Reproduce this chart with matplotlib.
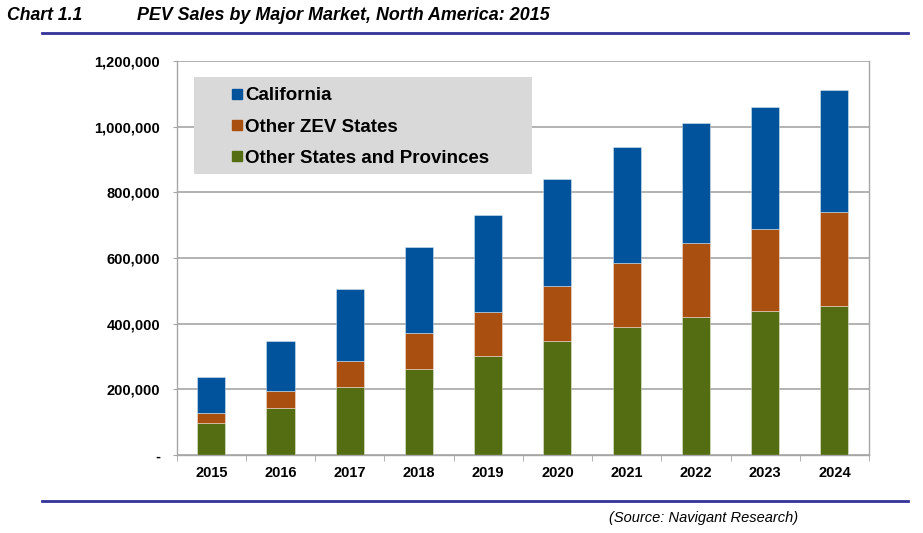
import numpy as np
import matplotlib
matplotlib.use('Agg')
import matplotlib.pyplot as plt
from matplotlib.patches import Rectangle
from matplotlib.lines import Line2D
from matplotlib.ticker import FuncFormatter, MultipleLocator

plt.rcParams['font.family'] = ['Liberation Sans', 'DejaVu Sans']

# Data
years = ['2015', '2016', '2017', '2018', '2019', '2020', '2021', '2022', '2023', '2024']
other_states = [96600, 144200, 206300, 261200, 301800, 348400, 389200, 419700, 438000, 453200]
other_zev = [32300, 51800, 81100, 109700, 134100, 165800, 196000, 225500, 250800, 286500]
california = [107900, 151500, 217600, 263100, 294700, 327000, 351500, 364600, 369800, 372800]

c_blue = '#01539b'
c_orange = '#a94f10'
c_green = '#546c12'
grid_c = '#a6a6a6'

fig = plt.figure(figsize=(9.23, 5.33), dpi=100)
ax = fig.add_axes([0.1914, 0.1463, 0.9415 - 0.1914, 0.8856 - 0.1463])

x = np.arange(len(years))
w = 0.405
edge = (1, 1, 1, 0.45)
g = np.array(other_states)
o = np.array(other_zev)
b = np.array(california)
ax.bar(x, g, w, color=c_green, edgecolor=edge, linewidth=0.6, zorder=2)
ax.bar(x, o, w, bottom=g, color=c_orange, edgecolor=edge, linewidth=0.6, zorder=2)
ax.bar(x, b, w, bottom=g + o, color=c_blue, edgecolor=edge, linewidth=0.6, zorder=2)

ax.set_xlim(-0.5, len(years) - 0.5)
ax.set_ylim(0, 1200000)
ax.yaxis.set_major_locator(MultipleLocator(200000))
ax.yaxis.set_major_formatter(FuncFormatter(lambda v, p: '-' if v == 0 else '{:,.0f}'.format(v)))
ax.yaxis.grid(True, color=grid_c, linewidth=1.2)
ax.set_axisbelow(True)

ax.set_xticks(x)
ax.set_xticklabels(years)
ax.set_xticks(np.arange(len(years) + 1) - 0.5, minor=True)
ax.tick_params(axis='x', which='major', length=0, pad=8)
ax.tick_params(axis='x', which='minor', length=4, color=grid_c)
ax.tick_params(axis='y', length=3, color=grid_c, pad=9)
for lab in ax.get_xticklabels() + ax.get_yticklabels():
    lab.set_fontweight('bold')
    lab.set_fontsize(10.5)

ax.spines['top'].set_visible(False)
for s in ['left', 'right', 'bottom']:
    ax.spines[s].set_color(grid_c)
    ax.spines[s].set_linewidth(1)

# legend box
fig.add_artist(Rectangle((194 / 923, 1 - 174 / 533), (532 - 194) / 923, (174 - 77) / 533,
                         transform=fig.transFigure, facecolor='#d9d9d9', edgecolor='none', zorder=3))
handles = [Line2D([], [], marker='s', linestyle='none', markersize=7.5, color=c)
           for c in (c_blue, c_orange, c_green)]
leg = fig.legend(handles, ['California', 'Other ZEV States', 'Other States and Provinces'],
                 loc='upper left', bbox_to_anchor=(216 / 923, 1 - 74 / 533), frameon=False,
                 prop={'weight': 'bold', 'size': 13.5}, handlelength=0.8, handletextpad=0.05,
                 labelspacing=0.76, borderpad=0.2)
leg.set_zorder(4)

# header and footer
fig.text(7 / 923, 1 - 16 / 533, 'Chart 1.1', fontsize=12.7, fontweight='bold', style='italic', va='center')
fig.text(137 / 923, 1 - 16 / 533, 'PEV Sales by Major Market, North America: 2015', fontsize=12.9,
         fontweight='bold', style='italic', va='center')
fig.add_artist(Line2D([42 / 923, 908 / 923], [1 - 33 / 533, 1 - 33 / 533], transform=fig.transFigure,
                      color='#333399', linewidth=2))
fig.add_artist(Line2D([42 / 923, 908 / 923], [1 - 501 / 533, 1 - 501 / 533], transform=fig.transFigure,
                      color='#333399', linewidth=2))
fig.text(609 / 923, 1 - 518 / 533, '(Source: Navigant Research)', fontsize=10.5, style='italic', va='center')

fig.savefig('out.png', dpi=100)
